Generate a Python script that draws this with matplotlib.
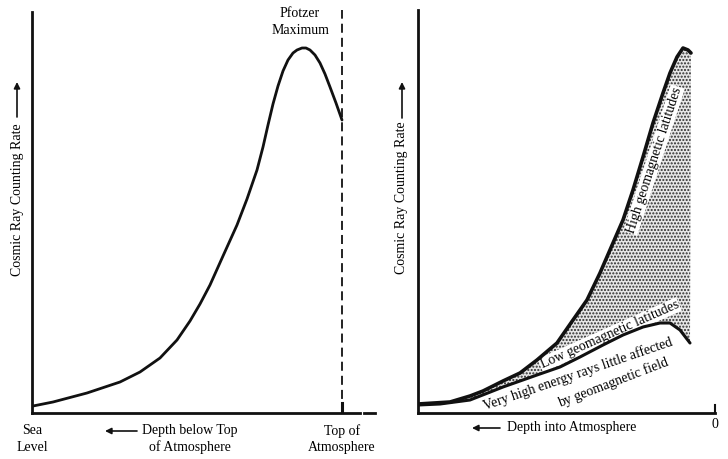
"""
Cosmic ray counting rate vs atmospheric depth: Pfotzer maximum (left) and
latitude effect (right). Schematic curves read off the textbook figure.
"""
import numpy as np
import matplotlib as mpl
import matplotlib.pyplot as plt

mpl.rcParams.update({
    "font.family": "Liberation Serif", "font.size": 10,
    "hatch.linewidth": 1.0,
})
INK = "#111111"

# ---- data (schematic units) ----
# left: distance from sea level -> counting rate
pf_x = [1, 21, 55, 88, 108, 128, 145, 158, 168, 178, 191, 205, 215, 225,
        231, 236, 241, 246, 251, 256, 261, 265, 270, 274, 278, 283, 288,
        293, 298, 304, 310]
pf_y = [7, 11, 20, 31, 41, 55, 73, 92, 109, 128, 157, 188, 214, 243,
        266, 288, 309, 327, 342, 353, 360, 363, 365, 365, 363, 358, 350,
        339, 326, 310, 293]
top_x = 310  # top of atmosphere

# right: high and low geomagnetic latitudes
hi_x = [0, 32, 52, 65, 85, 102, 119, 139, 155, 169, 182, 195, 205, 215,
        225, 235, 245, 252, 259, 265, 270, 273]
hi_y = [9, 11, 17, 22, 32, 40, 53, 70, 93, 113, 140, 170, 193, 223,
        256, 290, 320, 340, 356, 365, 363, 360]
lo_x = [0, 22, 52, 85, 119, 142, 162, 185, 205, 225, 242, 252, 262, 272]
lo_y = [8, 9, 13, 26, 38, 46, 56, 68, 78, 86, 90, 90, 83, 70]
zero_x = 297

W, H = 728, 459
fig = plt.figure(figsize=(W / 100, H / 100), dpi=100)


def axes_px(x0, y_top, x1, y0):
    # axes placed in pixel space so 1 data unit == 1 pixel
    ax = fig.add_axes([x0 / W, (H - y0) / H, (x1 - x0) / W, (y0 - y_top) / H])
    ax.set_xlim(0, x1 - x0); ax.set_ylim(0, y0 - y_top)
    ax.set_xticks([]); ax.set_yticks([])
    for s in ("top", "right"):
        ax.spines[s].set_visible(False)
    for s in ("left", "bottom"):
        ax.spines[s].set_linewidth(2.0); ax.spines[s].set_color(INK)
    ax.patch.set_alpha(0)
    return ax


def arrow(ax, start, end):
    ax.annotate("", xy=end, xytext=start, annotation_clip=False,
                arrowprops=dict(arrowstyle="-|>", lw=1.2, color=INK,
                                mutation_scale=9, shrinkA=0, shrinkB=0))


def ylab(ax, x, yc, y_arrow0, y_arrow1):
    ax.text(x, yc, "Cosmic Ray Counting Rate", rotation=90, ha="center",
            va="center", clip_on=False)
    arrow(ax, (x, y_arrow0), (x, y_arrow1))


KNOCK = dict(facecolor="white", edgecolor="none", pad=0.6)


def curved_label(ax, x, y, s, rot, box=None):
    ax.text(x, y, s, rotation=rot, rotation_mode="anchor", ha="center",
            va="baseline", zorder=2, bbox=box)


# ---- left panel ----
ax1 = axes_px(32, 10, 375, 413)
ax1.spines["left"].set_bounds(0, 401)
ax1.spines["bottom"].set_bounds(0, 328)
ax1.plot([332, 343], [0, 0], color=INK, lw=2.0, clip_on=False)
ax1.plot(pf_x, pf_y, color=INK, lw=2.0, solid_joinstyle="round",
         solid_capstyle="round")
ax1.plot([top_x, top_x], [0, 403], color=INK, lw=1.3, dashes=(5, 2.8))
ax1.plot([top_x, top_x], [0, 10], color=INK, lw=2.2)
ax1.text(268, 391, "Pfotzer\nMaximum", ha="center", va="center",
         linespacing=1.35)
ax1.text(0, -26, "Sea\nLevel", ha="center", va="center", linespacing=1.35,
         clip_on=False)
ax1.text(158, -26, "Depth below Top\nof Atmosphere", ha="center",
         va="center", linespacing=1.35, clip_on=False)
arrow(ax1, (105, -18), (73, -18))
ax1.text(top_x, -26, "Top of\nAtmosphere", ha="center", va="center",
         linespacing=1.35, clip_on=False)
ylab(ax1, -15, 213, 296, 331)

# ---- right panel ----
ax2 = axes_px(418, 10, 720, 413)
ax2.spines["left"].set_bounds(0, 403)
ax2.spines["bottom"].set_bounds(0, zero_x)
ax2.plot([zero_x, zero_x], [0, 8], color=INK, lw=1.5)
ax2.fill(hi_x + lo_x[::-1], hi_y + lo_y[::-1], facecolor="#e6e6e6",
         edgecolor="#2a2a2a", linewidth=0, hatch=".....", zorder=1)
ax2.plot(hi_x, hi_y, color=INK, lw=2.6, solid_joinstyle="round",
         solid_capstyle="round", zorder=3)
ax2.plot(lo_x, lo_y, color=INK, lw=2.2, solid_joinstyle="round",
         solid_capstyle="round", zorder=3)
ax2.text(236, 253, "High geomagnetic latitudes", rotation=72, ha="center",
         va="center", zorder=2, bbox=KNOCK)
curved_label(ax2, 193, 75, "Low geomagnetic latitudes", 24, KNOCK)
curved_label(ax2, 161, 35, "Very high energy rays little affected", 19)
curved_label(ax2, 197, 27, "by geomagnetic field", 21)
ax2.text(zero_x, -12, "0", ha="center", va="center", clip_on=False)
ax2.text(154, -15, "Depth into Atmosphere", ha="center", va="center",
         clip_on=False)
arrow(ax2, (82, -15), (54, -15))
ylab(ax2, -16, 215, 295, 331)

fig.savefig("out.png", dpi=100)
